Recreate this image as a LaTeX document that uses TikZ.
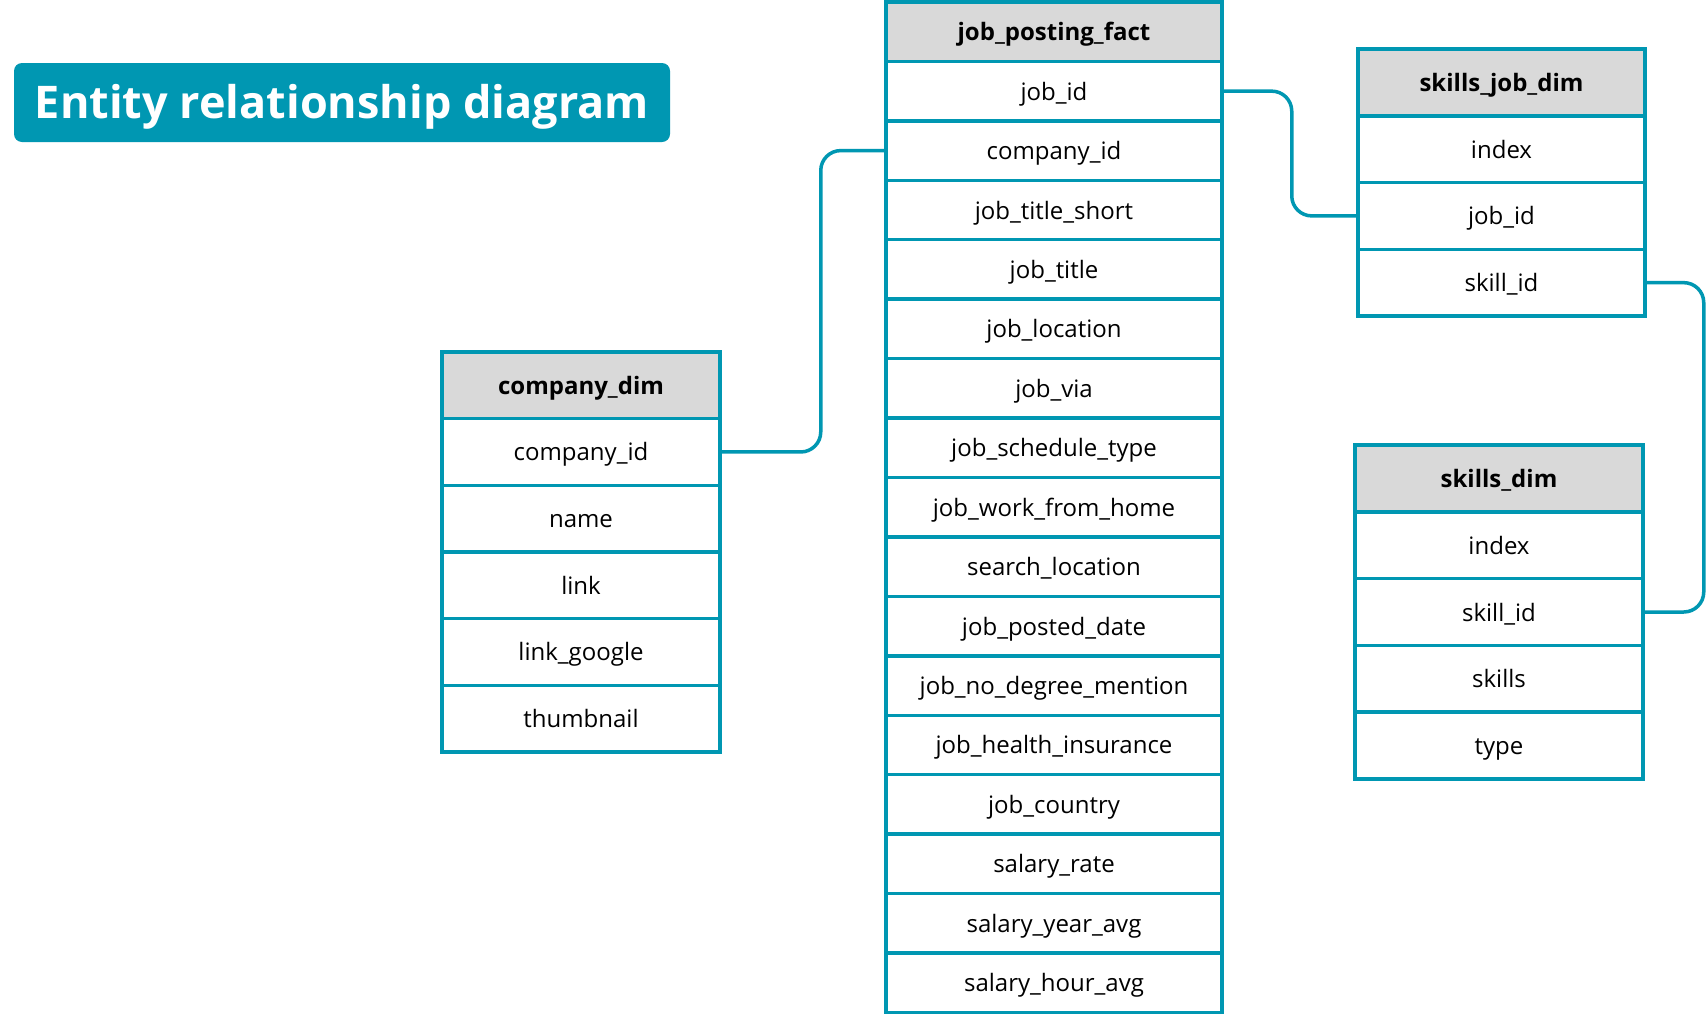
\documentclass[tikz,border=0pt]{standalone}
\usepackage{fontspec}
\setmainfont{Open Sans}
\definecolor{erteal}{HTML}{0097B2}
\definecolor{hdrgray}{HTML}{D9D9D9}
\tikzset{
  cell/.style={draw=erteal, line width=3.5pt, fill=white, inner sep=0pt,
    text height=20pt, text depth=2pt, font=\fontsize{24}{28}\selectfont},
  head/.style={cell, fill=hdrgray, font=\bfseries\fontsize{24}{28}\selectfont},
  link/.style={draw=erteal, line width=3.5pt, rounded corners=20pt}
}
\begin{document}
\begin{tikzpicture}[x=1pt,y=-1pt]
  \useasboundingbox[fill=white] (0,0) rectangle (1706,1015);
  % title
  \node[fill=erteal, rounded corners=8pt, minimum width=656pt, minimum height=79pt,
    text height=36pt, text depth=4pt,
    text=white, font=\bfseries\fontsize{45}{54}\selectfont] (title) at (342,102.5)
    {Entity relationship diagram};
  % job_posting_fact
  \node[head, minimum width=336pt, minimum height=59.44pt] (fact-0) at (1054,31.7) {job\_posting\_fact};
  \foreach \txt [count=\i] in {job\_id,company\_id,job\_title\_short,job\_title,
      job\_location,job\_via,job\_schedule\_type,job\_work\_from\_home,
      search\_location,job\_posted\_date,job\_no\_degree\_mention,
      job\_health\_insurance,job\_country,salary\_rate,salary\_year\_avg,
      salary\_hour\_avg}{
    \node[cell, minimum width=336pt, minimum height=59.44pt] (fact-\i) at (1054,31.7+59.44*\i) {\txt};
  }
  % company_dim
  \node[head, minimum width=278pt, minimum height=66.67pt] (comp-0) at (581,385.3) {company\_dim};
  \foreach \txt [count=\i] in {company\_id,name,link,link\_google,thumbnail}{
    \node[cell, minimum width=278pt, minimum height=66.67pt] (comp-\i) at (581,385.3+66.67*\i) {\txt};
  }
  % skills_job_dim
  \node[head, minimum width=287pt, minimum height=66.75pt] (sjd-0) at (1501.5,82.4) {skills\_job\_dim};
  \foreach \txt [count=\i] in {index,job\_id,skill\_id}{
    \node[cell, minimum width=287pt, minimum height=66.75pt] (sjd-\i) at (1501.5,82.4+66.75*\i) {\txt};
  }
  % skills_dim
  \node[head, minimum width=288pt, minimum height=66.8pt] (sd-0) at (1499,478.4) {skills\_dim};
  \foreach \txt [count=\i] in {index,skill\_id,skills,type}{
    \node[cell, minimum width=288pt, minimum height=66.8pt] (sd-\i) at (1499,478.4+66.8*\i) {\txt};
  }
  % relations
  \draw[link] (comp-1.east) -- ++(99,0) |- (fact-2.west);
  \draw[link] (fact-1.east) -- ++(68,0) |- (sjd-2.west);
  \draw[link] (sjd-3.east) -- ++(57,0) |- (sd-2.east);
\end{tikzpicture}
\end{document}
